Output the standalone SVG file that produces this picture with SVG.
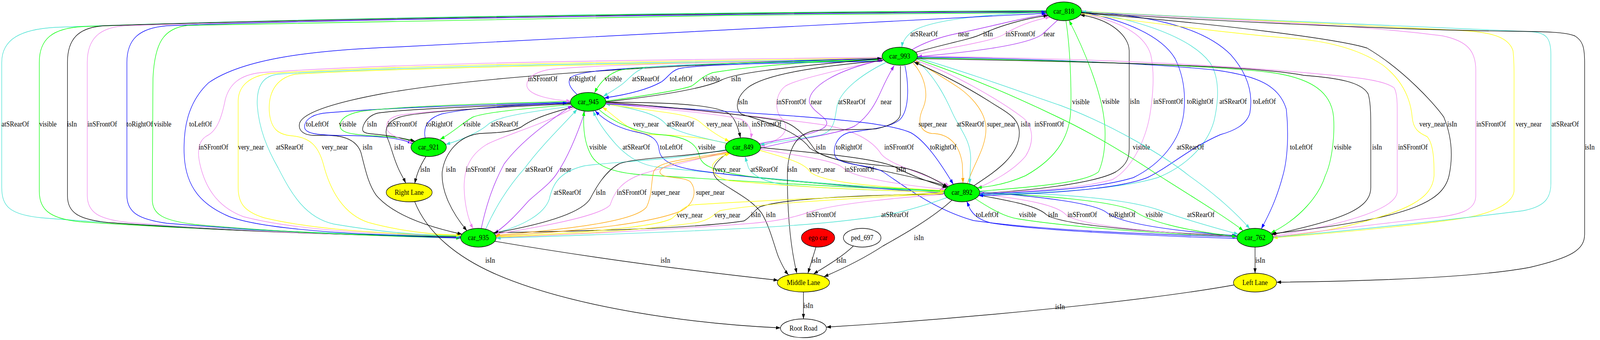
<svg xmlns="http://www.w3.org/2000/svg" width="4592" height="871" viewBox="0 0 4592 871">
<style>
.edge path{fill:none;stroke-width:1.4}
.k{stroke:#000;marker-end:url(#ak)}
.b{stroke:#0000ff;marker-end:url(#ab)}
.g{stroke:#00ff00;marker-end:url(#ag)}
.t{stroke:#40e0d0;marker-end:url(#at)}
.v{stroke:#ee82ee;marker-end:url(#av)}
.p{stroke:#a020f0;marker-end:url(#ap)}
.y{stroke:#ffff00;marker-end:url(#ay)}
.o{stroke:#ffa500;marker-end:url(#ao)}
text{font-family:"Liberation Serif","Times New Roman",serif;font-size:18.67px;text-anchor:middle;fill:#000}
.node ellipse{stroke:#000;stroke-width:1.4}
.car{fill:#00ff00}.lane{fill:#ffff00}.ego{fill:#ff0000}.plain{fill:#fff}
</style>
<defs>
<marker id="ak" viewBox="0 0 10 7" refX="10" refY="3.5" markerWidth="13" markerHeight="9" markerUnits="userSpaceOnUse" orient="auto"><path d="M0,0L10,3.5L0,7z" fill="#000"/></marker>
<marker id="ab" viewBox="0 0 10 7" refX="10" refY="3.5" markerWidth="13" markerHeight="9" markerUnits="userSpaceOnUse" orient="auto"><path d="M0,0L10,3.5L0,7z" fill="#0000ff"/></marker>
<marker id="ag" viewBox="0 0 10 7" refX="10" refY="3.5" markerWidth="13" markerHeight="9" markerUnits="userSpaceOnUse" orient="auto"><path d="M0,0L10,3.5L0,7z" fill="#00ff00"/></marker>
<marker id="at" viewBox="0 0 10 7" refX="10" refY="3.5" markerWidth="13" markerHeight="9" markerUnits="userSpaceOnUse" orient="auto"><path d="M0,0L10,3.5L0,7z" fill="#40e0d0"/></marker>
<marker id="av" viewBox="0 0 10 7" refX="10" refY="3.5" markerWidth="13" markerHeight="9" markerUnits="userSpaceOnUse" orient="auto"><path d="M0,0L10,3.5L0,7z" fill="#ee82ee"/></marker>
<marker id="ap" viewBox="0 0 10 7" refX="10" refY="3.5" markerWidth="13" markerHeight="9" markerUnits="userSpaceOnUse" orient="auto"><path d="M0,0L10,3.5L0,7z" fill="#a020f0"/></marker>
<marker id="ay" viewBox="0 0 10 7" refX="10" refY="3.5" markerWidth="13" markerHeight="9" markerUnits="userSpaceOnUse" orient="auto"><path d="M0,0L10,3.5L0,7z" fill="#ffff00"/></marker>
<marker id="ao" viewBox="0 0 10 7" refX="10" refY="3.5" markerWidth="13" markerHeight="9" markerUnits="userSpaceOnUse" orient="auto"><path d="M0,0L10,3.5L0,7z" fill="#ffa500"/></marker>
</defs>
<rect width="4592" height="871" fill="#fff"/>
<g id="diagram" transform="scale(0.89,1)">
<g id="edges" class="edge">
<g><path class="t" d="M3010,31 C2830,36 2670,52 2622,82 C2604,95 2596,108 2594,121"/><text x="2658" y="93">atSRearOf</text></g>
<g><path class="p" d="M2622,128 C2665,105 2720,92 2752,86 C2850,68 2950,44 3012,37"/><text x="2772" y="93">near</text></g>
<g><path class="k" d="M2634,134 C2720,112 2795,100 2822,88 C2870,68 2950,46 3015,40"/><text x="2842" y="93">isIn</text></g>
<g><path class="v" d="M2638,139 C2750,120 2860,104 2888,88 C2920,70 2968,52 3020,44"/><text x="2935" y="93">inSFrontOf</text></g>
<g><path class="p" d="M3042,52 C3025,65 3008,80 2998,88 C2950,118 2760,136 2639,145"/><text x="3018" y="93">near</text></g>
<g><path class="t" d="M3009,27 C2200,30 1000,42 160,70 C60,75 5,100 5,160 L5,480 C5,530 30,550 120,558 C500,585 1000,600 1325,605"/><text x="44" y="324">atSRearOf</text></g>
<g><path class="g" d="M3009,28 C2200,31 1000,44 240,68 C150,72 113,100 113,160 L113,490 C113,535 140,560 230,568 C600,590 1000,602 1325,606"/><text x="138" y="324">visible</text></g>
<g><path class="k" d="M3009,29 C2200,32 1000,46 300,66 C225,70 194,100 194,160 L194,500 C194,545 225,562 310,570 C650,592 1000,603 1325,607"/><text x="207" y="324">isIn</text></g>
<g><path class="v" d="M3009,30 C2200,33 1000,47 360,66 C285,70 251,100 251,160 L251,500 C251,545 285,562 370,570 C700,593 1000,604 1325,608"/><text x="294" y="324">inSFrontOf</text></g>
<g><path class="b" d="M1325,609 C1000,603 700,588 480,572 C400,562 365,545 365,500 L365,160 C365,100 400,72 480,66 C1000,48 2200,34 3009,31"/><text x="402" y="324">toRightOf</text></g>
<g><path class="g" d="M3009,32 C2200,36 1100,50 540,65 C470,72 445,110 440,200 L438,510 C438,550 470,565 560,575 C800,595 1100,605 1325,610"/><text x="468" y="324">visible</text></g>
<g><path class="b" d="M1325,610 C1000,600 760,588 660,555 C580,525 535,480 530,400 C526,330 540,262 600,212 C700,150 900,128 1150,120 C1600,100 2300,62 3009,34"/><text x="577" y="324">toLeftOf</text></g>
<g><path class="v" d="M2537,147 C2000,152 1200,158 750,186 C690,192 660,215 648,255 C638,300 625,335 595,348 C572,360 566,385 575,420 C590,480 625,530 700,555 C850,590 1100,602 1325,604"/><text x="614" y="383">inSFrontOf</text></g>
<g><path class="y" d="M2537,149 C2000,156 1200,163 780,188 C718,194 685,220 685,260 L685,480 C685,520 702,542 760,558 C900,588 1100,600 1325,603"/><text x="722" y="383">very_near</text></g>
<g><path class="t" d="M2537,151 C2000,159 1200,167 800,190 C752,195 738,225 740,270 C745,330 768,380 800,430 C840,500 880,558 960,574 C1100,595 1200,602 1325,605"/><text x="833" y="383">atSRearOf</text></g>
<g><path class="y" d="M2537,153 C2000,161 1200,171 850,190 C792,200 770,240 775,290 C780,330 800,345 840,348 C890,352 915,372 930,420 C950,490 990,550 1060,570 C1150,592 1250,602 1325,602"/><text x="963" y="383">very_near</text></g>
<g><path class="k" d="M2537,150 C2000,162 1400,192 1100,240 C950,265 872,290 862,315 C856,335 875,347 905,347 C960,345 1020,346 1038,390 C1050,430 1058,470 1082,500 C1120,540 1200,575 1329,600"/><text x="1057" y="383">isIn</text></g>
<g><path class="b" d="M1641,262 C1400,268 1100,276 930,290 C892,295 876,310 876,325 C876,342 910,346 980,347 C1080,348 1150,352 1186,368"/><text x="913" y="324">toLeftOf</text></g>
<g><path class="g" d="M1641,260 C1400,265 1150,272 1040,285 C998,292 978,305 978,322 C978,340 1010,345 1080,348 C1130,350 1170,356 1190,364"/><text x="1000" y="324">visible</text></g>
<g><path class="k" d="M1641,264 C1400,271 1150,280 1085,290 C1062,296 1052,308 1046,320 C1040,334 1040,341 1070,343 C1115,346 1160,354 1194,362"/><text x="1070" y="324">isIn</text></g>
<g><path class="v" d="M1641,266 C1400,276 1200,286 1145,296 C1118,302 1110,315 1112,328 C1115,345 1150,356 1189,366"/><text x="1157" y="324">inSFrontOf</text></g>
<g><path class="b" d="M1223,353 C1218,330 1225,305 1270,292 C1350,276 1500,268 1632,264"/><text x="1264" y="324">toRightOf</text></g>
<g><path class="g" d="M1643,268 C1540,276 1400,286 1360,300 C1330,315 1305,338 1266,357"/><text x="1357" y="324">visible</text></g>
<g><path class="t" d="M1644,272 C1530,286 1430,298 1405,318 C1380,338 1330,358 1282,370"/><text x="1451" y="324">atSRearOf</text></g>
<g><path class="k" d="M1641,266 C1450,273 1200,286 1150,300 C1110,312 1105,335 1115,355 C1125,375 1130,400 1145,430 C1152,445 1160,455 1167,469"/><text x="1148" y="383">isIn</text></g>
<g><path class="k" d="M1225,401 C1212,420 1200,440 1193,470"/><text x="1223" y="440">isIn</text></g>
<g><path class="k" d="M1648,274 C1580,290 1530,305 1500,325 C1470,340 1420,340 1380,342 C1320,348 1280,390 1272,440 C1268,490 1300,545 1343,591"/><text x="1297" y="440">isIn</text></g>
<g><path class="v" d="M1652,276 C1560,320 1440,350 1400,370 C1345,400 1335,440 1335,480 C1336,520 1345,560 1361,586"/><text x="1382" y="440">inSFrontOf</text></g>
<g><path class="p" d="M1384,586 C1400,520 1420,470 1450,420 C1500,360 1580,310 1646,270"/><text x="1470" y="440">near</text></g>
<g><path class="t" d="M1397,587 C1430,520 1470,470 1510,430 C1560,370 1620,320 1660,280"/><text x="1550" y="440">atSRearOf</text></g>
<g><path class="p" d="M1683,285 C1662,340 1635,400 1605,440 C1585,470 1550,490 1520,515 C1490,545 1460,575 1422,598"/><text x="1627" y="440">near</text></g>
<g><path class="y" d="M2090,368 C2050,356 1950,345 1880,345 C1830,345 1800,322 1772,302 C1758,292 1745,282 1733,275"/><text x="1858" y="324">very_near</text></g>
<g><path class="t" d="M2091,367 C2000,350 1940,336 1915,318 C1895,296 1850,282 1742,266"/><text x="1957" y="324">atSRearOf</text></g>
<g><path class="y" d="M1742,266 C1860,284 1980,290 2010,310 C2030,325 2060,347 2098,362"/><text x="2069" y="324">very_near</text></g>
<g><path class="k" d="M1743,262 C1900,262 2050,266 2095,290 C2112,300 2122,322 2130,353"/><text x="2136" y="324">isIn</text></g>
<g><path class="v" d="M1743,264 C1900,280 2060,290 2130,305 C2155,315 2163,335 2160,355"/><text x="2205" y="324">inSFrontOf</text></g>
<g><path class="g" d="M2716,490 C2400,480 2000,456 1852,448 C1780,444 1722,430 1702,400 C1682,370 1676,330 1680,284"/><text x="1720" y="383">visible</text></g>
<g><path class="t" d="M2716,492 C2400,474 2150,452 1890,428 C1830,420 1795,392 1772,370 C1742,340 1718,310 1706,284"/><text x="1830" y="383">atSRearOf</text></g>
<g><path class="b" d="M2716,495 C2400,476 2100,450 2000,436 C1930,426 1900,410 1896,385 C1893,355 1870,346 1840,340 C1780,330 1740,310 1712,284"/><text x="1931" y="383">toLeftOf</text></g>
<g><path class="g" d="M1722,280 C1762,312 1830,340 1900,345 C1978,350 2005,370 2012,400 C2022,440 2100,462 2716,489"/><text x="2033" y="383">visible</text></g>
<g><path class="v" d="M2537,152 C2100,158 1700,166 1580,178 C1530,186 1512,205 1516,222 C1524,246 1590,256 1642,259"/><text x="1561" y="208">inSFrontOf</text></g>
<g><path class="b" d="M1660,242 C1640,226 1632,212 1640,200 C1660,182 1760,178 1900,170 C2200,158 2400,152 2537,150"/><text x="1676" y="208">toRightOf</text></g>
<g><path class="g" d="M2537,153 C2100,160 1850,168 1782,180 C1748,190 1726,210 1710,238"/><text x="1764" y="208">visible</text></g>
<g><path class="t" d="M2537,155 C2200,160 1950,165 1862,172 C1828,178 1812,200 1792,214 C1772,228 1752,238 1735,247"/><text x="1857" y="208">atSRearOf</text></g>
<g><path class="b" d="M2537,157 C2200,161 2000,166 1952,176 C1928,183 1920,200 1902,210 C1862,230 1800,243 1738,251"/><text x="1959" y="208">toLeftOf</text></g>
<g><path class="g" d="M1743,259 C1850,246 1955,232 1990,220 C2008,210 2018,196 2050,186 C2200,164 2400,155 2537,152"/><text x="2046" y="208">visible</text></g>
<g><path class="k" d="M1743,261 C1900,245 2030,226 2075,205 C2110,190 2200,176 2537,150"/><text x="2117" y="208">isIn</text></g>
<g><path class="v" d="M2538,152 C2420,180 2300,200 2260,220 C2230,240 2228,280 2245,300 C2270,322 2272,352 2187,375"/><text x="2276" y="267">inSFrontOf</text></g>
<g><path class="p" d="M2184,368 C2280,352 2372,340 2378,318 C2382,300 2340,290 2328,262 C2324,225 2400,180 2540,153"/><text x="2348" y="267">near</text></g>
<g><path class="t" d="M2548,160 C2480,190 2420,230 2408,270 C2400,310 2400,336 2360,346 C2300,356 2240,362 2186,371"/><text x="2450" y="267">atSRearOf</text></g>
<g><path class="p" d="M2187,380 C2300,354 2420,342 2460,322 C2500,297 2520,262 2535,232 C2550,202 2560,186 2572,168"/><text x="2549" y="267">near</text></g>
<g><path class="k" d="M2540,155 C2350,170 2200,190 2150,225 C2116,250 2114,280 2132,292 C2200,312 2290,332 2330,380 C2400,422 2600,442 2727,478"/><text x="2137" y="267">isIn</text></g>
<g><path class="o" d="M2626,161 C2660,195 2672,240 2656,275 C2640,305 2640,336 2680,342 C2730,342 2760,370 2768,420 L2770,469"/><text x="2683" y="324">super_near</text></g>
<g><path class="o" d="M2783,470 C2800,420 2836,380 2836,330 C2836,290 2800,252 2760,226 C2710,196 2670,176 2633,156"/><text x="2880" y="324">super_near</text></g>
<g><path class="t" d="M2636,154 C2690,196 2720,250 2740,290 C2760,330 2794,360 2792,410 L2789,471"/><text x="2791" y="324">atSRearOf</text></g>
<g><path class="k" d="M2801,476 C2862,440 2932,400 2932,340 C2932,300 2890,285 2850,262 C2780,222 2700,186 2629,159"/><text x="2950" y="324">isIn</text></g>
<g><path class="v" d="M2635,155 C2750,190 2880,260 2940,300 C2970,320 2978,360 2950,400 C2912,440 2852,466 2812,482"/><text x="3018" y="324">inSFrontOf</text></g>
<g><path class="b" d="M1743,266 C1900,275 2100,285 2250,295 C2400,305 2560,316 2620,340 C2660,360 2700,410 2742,472"/><text x="2713" y="383">toRightOf</text></g>
<g><path class="v" d="M1743,263 C1950,280 2200,298 2370,320 C2460,334 2510,360 2535,395 C2560,422 2650,442 2731,476"/><text x="2586" y="383">inSFrontOf</text></g>
<g><path class="k" d="M1743,262 C1950,275 2150,295 2250,310 C2300,325 2325,360 2345,385 C2380,415 2500,420 2600,430 C2650,440 2690,460 2726,479"/><text x="2361" y="383">isIn</text></g>
<g><path class="b" d="M2603,168 C2615,220 2615,280 2590,305 C2560,330 2480,333 2440,340 C2405,350 2395,380 2402,400 C2415,425 2500,420 2540,440 C2620,490 2700,540 2800,565 C3000,590 3300,600 3558,607"/><text x="2442" y="383">toRightOf</text></g>
<g><path class="b" d="M3558,611 C3200,601 2950,586 2850,571 C2815,563 2800,550 2790,535 L2781,516"/><text x="2840" y="556">toLeftOf</text></g>
<g><path class="g" d="M2805,509 C2850,535 2890,556 2930,561 C3050,578 3300,598 3558,606"/><text x="2956" y="556">visible</text></g>
<g><path class="k" d="M2816,500 C2900,514 2982,526 3010,550 C3050,576 3300,595 3558,604"/><text x="3029" y="556">isIn</text></g>
<g><path class="v" d="M2818,497 C2950,510 3040,525 3066,550 C3100,576 3300,595 3558,606"/><text x="3113" y="556">inSFrontOf</text></g>
<g><path class="b" d="M2818,491 C3000,505 3150,520 3184,545 C3220,571 3350,590 3557,604"/><text x="3228" y="556">toRightOf</text></g>
<g><path class="g" d="M2818,494 C3000,500 3200,515 3262,540 C3300,566 3400,590 3557,606"/><text x="3320" y="556">visible</text></g>
<g><path class="t" d="M2818,492 C3050,495 3250,510 3340,540 C3400,560 3480,580 3562,600"/><text x="3454" y="556">atSRearOf</text></g>
<g><path class="g" d="M3066,53 C3078,120 3082,220 3080,280 C3078,340 3050,400 2950,450 C2900,470 2850,478 2811,481"/><text x="3109" y="267">visible</text></g>
<g><path class="g" d="M2818,490 C2950,480 3120,470 3160,440 C3180,400 3182,340 3175,300 C3165,230 3120,130 3075,52"/><text x="3195" y="266">visible</text></g>
<g><path class="k" d="M2818,495 C2950,490 3150,470 3210,440 C3245,420 3248,400 3248,380 L3248,130 C3248,95 3200,50 3107,38"/><text x="3264" y="266">isIn</text></g>
<g><path class="v" d="M3110,34 C3200,50 3290,80 3310,140 C3320,180 3318,230 3310,280 C3300,350 3260,430 3200,460 C3100,485 2950,490 2818,495"/><text x="3360" y="266">inSFrontOf</text></g>
<g><path class="b" d="M3111,31 C3230,50 3340,90 3380,150 C3408,200 3410,250 3405,290 C3395,360 3340,420 3260,455 C3150,485 2950,493 2818,497"/><text x="3452" y="266">toRightOf</text></g>
<g><path class="t" d="M3111,30 C3250,45 3420,90 3480,160 C3510,200 3505,260 3492,310 C3470,380 3400,430 3330,455 C3200,490 2950,495 2817,499"/><text x="3547" y="266">atSRearOf</text></g>
<g><path class="b" d="M3111,28 C3280,40 3450,60 3540,140 C3590,190 3605,240 3595,290 C3585,320 3550,335 3510,345 C3420,380 3360,430 3300,455 C3200,490 2950,498 2815,501"/><text x="3637" y="266">toLeftOf</text></g>
<g><path class="g" d="M2637,151 C2800,200 2950,260 3043,300 C3150,345 3250,400 3334,450 C3450,515 3540,565 3576,591"/><text x="3283" y="383">visible</text></g>
<g><path class="t" d="M2638,148 C2800,190 2950,240 3050,270 C3200,320 3350,400 3420,450 C3500,500 3560,550 3595,586"/><text x="3424" y="383">atSRearOf</text></g>
<g><path class="b" d="M2639,146 C3000,150 3350,165 3500,180 C3620,195 3680,220 3700,280 C3706,330 3706,400 3690,450 C3672,510 3650,550 3628,586"/><text x="3743" y="383">toLeftOf</text></g>
<g><path class="g" d="M2639,148 C3000,154 3450,165 3650,185 C3780,200 3830,240 3836,300 C3840,360 3828,420 3812,450 C3795,500 3740,560 3655,597"/><text x="3862" y="383">visible</text></g>
<g><path class="k" d="M2638,150 C3100,158 3600,166 3750,193 C3850,200 3915,210 3935,240 C3943,260 3943,300 3943,340 L3943,480 C3943,530 3880,560 3659,601"/><text x="3961" y="383">isIn</text></g>
<g><path class="v" d="M2639,144 C3000,148 3450,160 3800,190 C3900,198 3980,205 4010,225 C4020,240 4019,270 4019,300 L4019,490 C4019,530 3900,570 3661,605"/><text x="4064" y="383">inSFrontOf</text></g>
<g><path class="k" d="M3111,33 C3500,60 3850,100 3932,123 C4040,180 4130,270 4153,300 C4176,350 4180,400 4168,450 C4150,520 4050,560 3657,599"/><text x="4177" y="324">isIn</text></g>
<g><path class="y" d="M3111,35 C3400,70 3600,90 3700,97 C3800,103 3900,120 3978,167 C4040,210 4058,260 4062,300 C4065,330 4080,340 4105,350 C4125,370 4125,420 4125,450 C4120,510 4050,540 3870,580 C3780,598 3700,605 3661,606"/><text x="4120" y="324">very_near</text></g>
<g><path class="v" d="M3111,30 C3500,50 3900,62 4150,92 C4220,105 4245,130 4245,180 L4245,500 C4245,540 4200,552 4100,560 C3950,575 3780,595 3661,607"/><text x="4289" y="324">inSFrontOf</text></g>
<g><path class="y" d="M3111,29 C3600,50 4000,70 4200,78 C4290,82 4340,95 4352,130 C4356,160 4355,200 4355,250 L4355,490 C4350,525 4280,550 4200,560 C4050,580 3800,600 3662,609"/><text x="4397" y="324">very_near</text></g>
<g><path class="t" d="M3662,608 C3900,590 4200,560 4380,540 C4440,530 4461,510 4461,470 L4461,140 C4461,100 4450,82 4400,81 C4250,76 3600,50 3111,30"/><text x="4502" y="324">atSRearOf</text></g>
<g><path class="k" d="M3111,32 C3600,60 4100,78 4350,80 C4450,81 4502,82 4530,92 C4552,104 4558,120 4558,160 L4558,600 C4558,640 4520,660 4400,685 C4250,710 3950,720 3672,723"/><text x="4573" y="383">isIn</text></g>
<g><path class="k" d="M3610,633 L3610,700"/><text x="3625" y="673">isIn</text></g>
<g><path class="k" d="M3550,730 C3300,770 2800,815 2377,838"/><text x="3049" y="792">isIn</text></g>
<g><path class="k" d="M2311,748 L2311,817"/><text x="2325" y="789">isIn</text></g>
<g><path class="k" d="M2347,633 L2324,700"/><text x="2348" y="673">isIn</text></g>
<g><path class="k" d="M2455,630 C2420,660 2370,685 2340,702"/><text x="2420" y="673">isIn</text></g>
<g><path class="k" d="M2738,513 C2680,560 2600,600 2540,630 C2480,665 2420,690 2370,709"/><text x="2643" y="615">isIn</text></g>
<g><path class="k" d="M1423,618 C1700,660 2000,695 2238,718"/><text x="1914" y="673">isIn</text></g>
<g><path class="k" d="M1193,517 C1230,600 1320,660 1420,700 C1650,790 2000,830 2245,840"/><text x="1410" y="673">isIn</text></g>
<g><path class="k" d="M2590,169 L2590,290 C2590,310 2560,322 2520,330 C2460,334 2380,330 2340,335 C2290,345 2268,380 2265,440 C2264,520 2270,620 2292,700"/><text x="2279" y="440">isIn</text></g>
<g><path class="k" d="M2095,391 C2055,415 2035,440 2070,465 C2110,490 2160,510 2190,545 C2215,580 2230,640 2240,660 C2250,680 2258,694 2268,704"/><text x="2217" y="556">isIn</text></g>
<g><path class="k" d="M2714,497 C2450,500 2250,510 2185,530 C2168,540 2160,556 2140,566 C2000,585 1700,592 1419,596"/><text x="2174" y="556">isIn</text></g>
<g><path class="t" d="M2088,383 C1950,410 1750,415 1680,425 C1610,440 1590,470 1580,510 C1565,550 1500,580 1421,598"/><text x="1632" y="499">atSRearOf</text></g>
<g><path class="k" d="M2089,385 C1950,403 1820,405 1780,420 C1740,440 1715,480 1700,505 C1680,545 1560,575 1420,597"/><text x="1728" y="499">isIn</text></g>
<g><path class="v" d="M2092,388 C2000,410 1900,430 1850,445 C1780,465 1765,500 1755,525 C1730,550 1600,575 1423,600"/><text x="1817" y="499">inSFrontOf</text></g>
<g><path class="o" d="M2094,390 C1950,410 1890,416 1880,440 C1872,470 1876,500 1860,530 C1830,566 1650,586 1425,603"/><text x="1915" y="499">super_near</text></g>
<g><path class="o" d="M2097,392 C1980,410 1900,420 1898,440 C1900,460 1960,450 1985,465 C2005,485 2000,520 1960,540 C1880,570 1700,590 1426,605"/><text x="2043" y="499">super_near</text></g>
<g><path class="y" d="M2713,494 C2450,505 2200,512 1990,525 C1962,530 1950,548 1932,560 C1880,585 1600,600 1427,607"/><text x="1984" y="557">very_near</text></g>
<g><path class="y" d="M2713,496 C2400,510 2150,525 2070,540 C2052,550 2045,562 2005,570 C1850,590 1600,603 1427,608"/><text x="2092" y="557">very_near</text></g>
<g><path class="v" d="M2714,498 C2600,505 2420,520 2340,540 C2290,555 2250,566 2150,573 C1900,590 1650,600 1427,609"/><text x="2362" y="556">inSFrontOf</text></g>
<g><path class="t" d="M2724,506 C2650,530 2560,553 2480,560 C2350,575 2200,588 1427,610"/><text x="2574" y="556">atSRearOf</text></g>
<g><path class="t" d="M2716,492 C2500,488 2350,482 2250,472 C2190,464 2162,446 2153,430 L2143,401"/><text x="2198" y="440">atSRearOf</text></g>
<g><path class="y" d="M2185,385 C2262,405 2312,416 2330,440 C2360,466 2500,478 2717,488"/><text x="2365" y="440">very_near</text></g>
<g><path class="v" d="M2187,382 C2300,400 2400,410 2425,430 C2450,455 2600,475 2719,485"/><text x="2472" y="440">inSFrontOf</text></g>
<g><path class="k" d="M2188,378 C2350,392 2520,405 2575,428 C2620,450 2680,468 2724,481"/><text x="2592" y="440">isIn</text></g>
<g><path class="y" d="M2715,492 C2500,488 2300,480 2100,463 C2060,456 2045,440 2050,422 C2060,408 2075,400 2100,393"/><text x="2093" y="440">very_near</text></g>
</g>
<g id="node-car_818" class="node"><ellipse class="car" cx="3060" cy="29" rx="51" ry="24"/><text x="3060" y="35">car_818</text></g>
<g id="node-car_993" class="node"><ellipse class="car" cx="2588" cy="144" rx="51" ry="23"/><text x="2588" y="150">car_993</text></g>
<g id="node-car_945" class="node"><ellipse class="car" cx="1692" cy="261" rx="51" ry="24"/><text x="1692" y="267">car_945</text></g>
<g id="node-car_921" class="node"><ellipse class="car" cx="1233" cy="377" rx="51" ry="24"/><text x="1233" y="383">car_921</text></g>
<g id="node-car_849" class="node"><ellipse class="car" cx="2137" cy="377" rx="51" ry="24"/><text x="2137" y="383">car_849</text></g>
<g id="node-right_lane" class="node"><ellipse class="lane" cx="1177" cy="493" rx="66" ry="24"/><text x="1177" y="499">Right Lane</text></g>
<g id="node-car_892" class="node"><ellipse class="car" cx="2767" cy="493" rx="51" ry="24"/><text x="2767" y="499">car_892</text></g>
<g id="node-car_935" class="node"><ellipse class="car" cx="1376" cy="609" rx="51" ry="24"/><text x="1376" y="615">car_935</text></g>
<g id="node-ego_car" class="node"><ellipse class="ego" cx="2353" cy="609" rx="48" ry="24"/><text x="2353" y="615">ego car</text></g>
<g id="node-ped_697" class="node"><ellipse class="plain" cx="2480" cy="609" rx="54" ry="24"/><text x="2480" y="615">ped_697</text></g>
<g id="node-car_762" class="node"><ellipse class="car" cx="3610" cy="609" rx="52" ry="24"/><text x="3610" y="615">car_762</text></g>
<g id="node-middle_lane" class="node"><ellipse class="lane" cx="2311" cy="724" rx="75" ry="24"/><text x="2311" y="730">Middle Lane</text></g>
<g id="node-left_lane" class="node"><ellipse class="lane" cx="3610" cy="724" rx="62" ry="24"/><text x="3610" y="730">Left Lane</text></g>
<g id="node-root_road" class="node"><ellipse class="plain" cx="2311" cy="841" rx="66" ry="24"/><text x="2311" y="847">Root Road</text></g>
</g>
</svg>
